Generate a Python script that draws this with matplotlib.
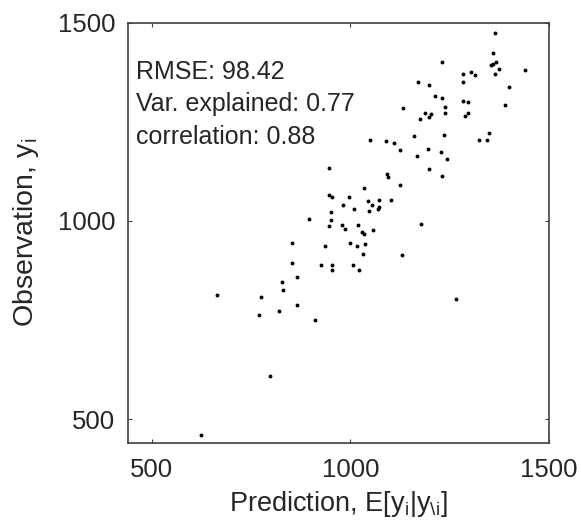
import matplotlib
matplotlib.use('Agg')
import matplotlib.pyplot as plt
import numpy as np

plt.rcParams['font.family'] = ['Liberation Sans', 'DejaVu Sans']
plt.rcParams['mathtext.fontset'] = 'custom'
plt.rcParams['mathtext.rm'] = 'Liberation Sans'
plt.rcParams['mathtext.it'] = 'Liberation Sans'

pred = [1363, 1231, 1358, 1355, 1360, 1366, 1375, 1363, 1439, 1283,
        1304, 1314, 1283, 1171, 1197, 1400, 1213, 1231, 1283, 1296,
        1237, 1133, 1388, 1188, 1204, 1197, 1175, 1237, 1296, 1288,
        1161, 1235, 1349, 1324, 1343, 1049, 1090, 1109, 1125, 1195,
        1229, 1242, 1168, 1197, 1230, 947, 1091, 1094, 1126, 1033,
        945, 953, 997, 982, 1044, 1073, 1101, 1009, 1055, 1071,
        1069, 1046, 950, 895, 952, 946, 980, 987, 1019, 1028,
        1035, 1058, 1178, 853, 998, 1017, 1037, 936, 1032, 1131,
        853, 925, 953, 953, 1006, 1021, 829, 831, 865, 663,
        775, 865, 820, 769, 912, 1265, 797, 623]
obs = [1474, 1400, 1424, 1394, 1397, 1402, 1384, 1370, 1381, 1371,
       1375, 1367, 1350, 1350, 1342, 1337, 1316, 1311, 1302, 1299,
       1288, 1285, 1293, 1273, 1269, 1263, 1258, 1271, 1273, 1264,
       1214, 1217, 1223, 1205, 1203, 1205, 1202, 1197, 1179, 1181,
       1174, 1156, 1163, 1130, 1113, 1134, 1118, 1110, 1090, 1083,
       1065, 1061, 1060, 1039, 1050, 1053, 1052, 1030, 1039, 1034,
       1029, 1024, 1022, 1006, 1003, 987, 989, 979, 990, 973,
       968, 976, 992, 944, 944, 937, 941, 936, 917, 915,
       893, 890, 890, 876, 888, 876, 847, 827, 858, 813,
       809, 787, 772, 763, 751, 803, 609, 460]

stats = ['RMSE: 98.42', 'Var. explained: 0.77', 'correlation: 0.88']
ticks = [500, 1000, 1500]

fig = plt.figure(figsize=(5.81, 5.30), dpi=100)
ax = fig.add_axes([0.2203, 0.1642, 0.7246, 0.793])

ax.plot(pred, obs, 'o', color='black', ms=2.8, mec='none')

ax.set_xlim(440, 1500)
ax.set_ylim(440, 1500)
ax.set_xticks(ticks)
ax.set_yticks(ticks)
ax.tick_params(direction='in', length=3, width=0.8, top=True, right=True,
               labelsize=18.5, colors='#404040', labelcolor='#262626')
ax.tick_params(axis='x', pad=11)
ax.tick_params(axis='y', pad=9)
for s in ax.spines.values():
    s.set_color('#404040')
    s.set_linewidth(1.2)

for k, txt in enumerate(stats):
    ax.text(460, 1359 - 83 * k, txt, fontsize=18, color='#262626',
            ha='left', va='baseline')

ax.set_xlabel(r'Prediction, E[y$_{\mathregular{i}}$|y$_{\mathregular{\backslash i}}$]',
              fontsize=19.5, color='#262626', labelpad=5)
ax.set_ylabel(r'Observation, y$_{\mathregular{i}}$', fontsize=20.5,
              color='#262626', labelpad=12)

fig.savefig('out.png', dpi=100)
